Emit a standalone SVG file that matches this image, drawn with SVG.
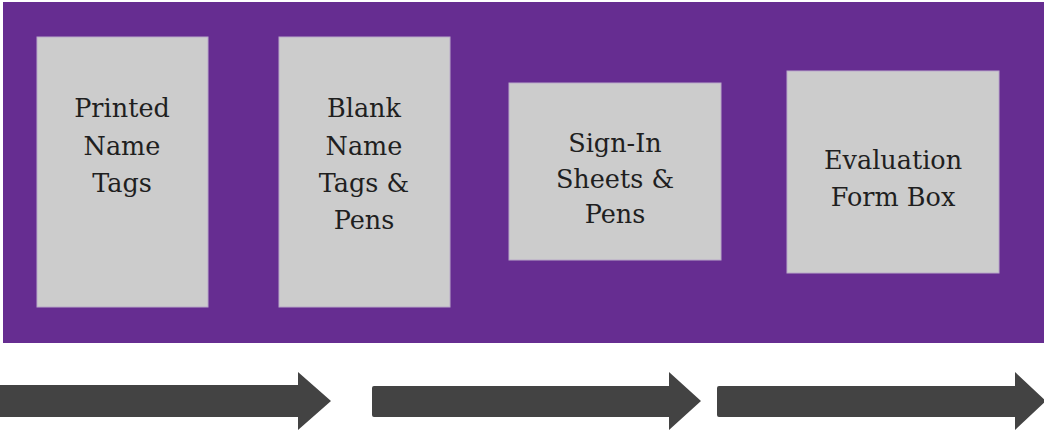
<svg xmlns="http://www.w3.org/2000/svg" width="1044" height="431" viewBox="0 0 1044 431">
<style>
.box{fill:#cccccc;stroke:#b9a9c9;stroke-width:1}
.t{font-family:"DejaVu Serif","Liberation Serif",serif;font-size:25.5px;fill:#1f1f1f;text-anchor:middle}
.arr{fill:#434343}
</style>
<rect x="3" y="2" width="1041" height="341" fill="#662d91"/>
<g id="node1"><rect class="box" x="37" y="37" width="171" height="270"/>
<text class="t"><tspan x="122" y="117">Printed</tspan><tspan x="122" y="155">Name</tspan><tspan x="122" y="192">Tags</tspan></text></g>
<g id="node2"><rect class="box" x="279" y="37" width="171" height="270"/>
<text class="t"><tspan x="364" y="117">Blank</tspan><tspan x="364" y="155">Name</tspan><tspan x="364" y="192">Tags &amp;</tspan><tspan x="364" y="229">Pens</tspan></text></g>
<g id="node3"><rect class="box" x="509" y="83" width="212" height="177"/>
<text class="t"><tspan x="615" y="152">Sign-In</tspan><tspan x="615" y="188">Sheets &amp;</tspan><tspan x="615" y="223">Pens</tspan></text></g>
<g id="node4"><rect class="box" x="787" y="71" width="212" height="202"/>
<text class="t"><tspan x="893" y="169">Evaluation</tspan><tspan x="893" y="206">Form Box</tspan></text></g>
<g id="connectors">
<path class="arr" d="M0 385 H298 V372 L331 401 L298 430 V417 H0 Z"/>
<path class="arr" d="M374 386 H669 V372 L701 401 L669 430 V417 H374 Q372 417 372 415 V388 Q372 386 374 386 Z"/>
<path class="arr" d="M719 386 H1015 V372 L1046 401 L1015 430 V417 H719 Q717 417 717 415 V388 Q717 386 719 386 Z"/>
</g>
</svg>
